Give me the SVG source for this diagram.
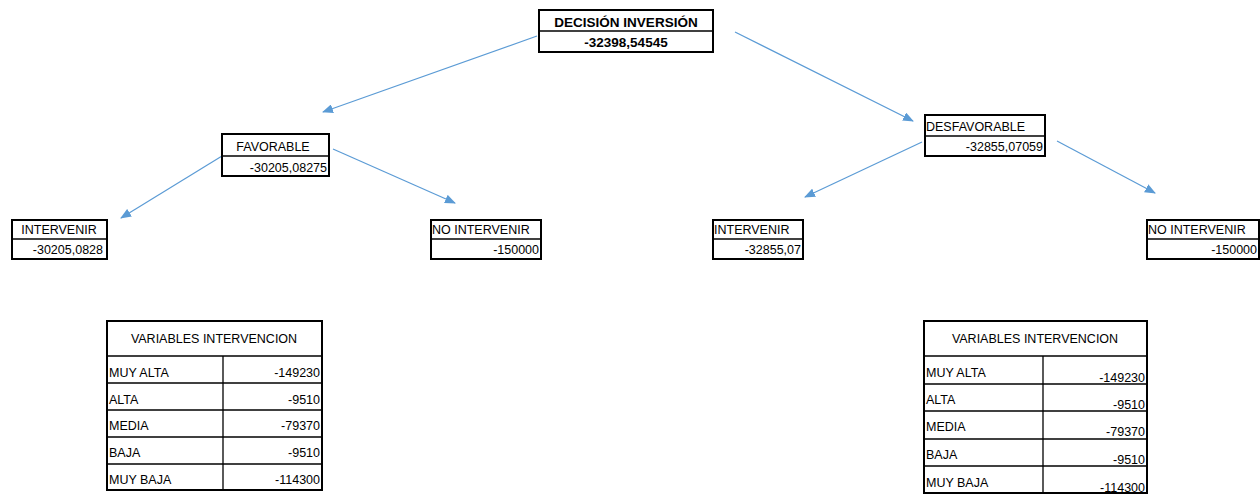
<svg xmlns="http://www.w3.org/2000/svg" width="1260" height="494" viewBox="0 0 1260 494">
  <style>
    text { font-family: "Liberation Sans", Arial, sans-serif; font-size: 12.5px; fill: #000; }
    .b { font-weight: bold; font-size: 13.5px; }
    .c { text-anchor: middle; }
    .r { text-anchor: end; }
    .box { fill: #fff; stroke: #000; stroke-width: 2; }
    .div { stroke: #000; stroke-width: 1.5; }
    .grid { stroke: #000; stroke-width: 1.3; }
    .edge { stroke: #5B9BD5; stroke-width: 1.2; fill: none; marker-end: url(#arrow); }
  </style>
  <defs>
    <marker id="arrow" markerUnits="userSpaceOnUse" markerWidth="11" markerHeight="9" refX="10" refY="4.5" orient="auto">
      <path d="M0,0 L11,4.5 L0,9 Z" fill="#5B9BD5"/>
    </marker>
  </defs>

  <!-- connectors -->
  <g id="connectors">
    <line class="edge" x1="537" y1="36" x2="323" y2="112"/>
    <line class="edge" x1="735" y1="32" x2="913" y2="121"/>
    <line class="edge" x1="222" y1="156" x2="121" y2="218"/>
    <line class="edge" x1="333" y1="149" x2="455" y2="203"/>
    <line class="edge" x1="922" y1="142" x2="805" y2="197"/>
    <line class="edge" x1="1057" y1="141" x2="1155" y2="193"/>
  </g>

  <!-- root decision -->
  <g id="decision">
    <rect class="box" x="539" y="10" width="174" height="42"/>
    <line class="div" x1="539" y1="31" x2="713" y2="31"/>
    <text class="b c" x="626" y="27">DECISIÓN INVERSIÓN</text>
    <text class="b c" x="626" y="47">-32398,54545</text>
  </g>

  <!-- favorable branch -->
  <g id="favorable">
    <rect class="box" x="222" y="134" width="107" height="42"/>
    <line class="div" x1="222" y1="156" x2="329" y2="156"/>
    <text class="c" x="273" y="151">FAVORABLE</text>
    <text class="r" x="327" y="172">-30205,08275</text>
  </g>

  <g id="fav-intervenir">
    <rect class="box" x="12" y="220" width="95" height="39"/>
    <line class="div" x1="12" y1="239" x2="107" y2="239"/>
    <text class="c" x="59" y="234">INTERVENIR</text>
    <text class="r" x="103" y="254">-30205,0828</text>
  </g>

  <g id="fav-no-intervenir">
    <rect class="box" x="431" y="220" width="110" height="39"/>
    <line class="div" x1="431" y1="239" x2="541" y2="239"/>
    <text x="432" y="234">NO INTERVENIR</text>
    <text class="r" x="539" y="254">-150000</text>
  </g>

  <!-- unfavorable branch -->
  <g id="desfavorable">
    <rect class="box" x="925" y="115" width="120" height="41"/>
    <line class="div" x1="925" y1="136" x2="1045" y2="136"/>
    <text x="926" y="131">DESFAVORABLE</text>
    <text class="r" x="1043" y="151">-32855,07059</text>
  </g>

  <g id="desf-intervenir">
    <rect class="box" x="713" y="220" width="90" height="39"/>
    <line class="div" x1="713" y1="239" x2="803" y2="239"/>
    <text x="714" y="234">INTERVENIR</text>
    <text class="r" x="801" y="254">-32855,07</text>
  </g>

  <g id="desf-no-intervenir">
    <rect class="box" x="1147" y="220" width="112" height="39"/>
    <line class="div" x1="1147" y1="239" x2="1259" y2="239"/>
    <text x="1148" y="234">NO INTERVENIR</text>
    <text class="r" x="1257" y="254">-150000</text>
  </g>

  <!-- intervention variables, left -->
  <g id="table-left">
    <rect class="box" x="107" y="321" width="215" height="169"/>
    <line class="grid" x1="107" y1="356" x2="322" y2="356"/>
    <line class="grid" x1="107" y1="383" x2="322" y2="383"/>
    <line class="grid" x1="107" y1="410" x2="322" y2="410"/>
    <line class="grid" x1="107" y1="437" x2="322" y2="437"/>
    <line class="grid" x1="107" y1="464" x2="322" y2="464"/>
    <line class="grid" x1="223" y1="356" x2="223" y2="490"/>
    <text class="c" x="214" y="343">VARIABLES INTERVENCION</text>
    <text x="109" y="377">MUY ALTA</text><text class="r" x="320" y="377">-149230</text>
    <text x="109" y="404">ALTA</text><text class="r" x="320" y="404">-9510</text>
    <text x="109" y="430">MEDIA</text><text class="r" x="320" y="430">-79370</text>
    <text x="109" y="457">BAJA</text><text class="r" x="320" y="457">-9510</text>
    <text x="109" y="484">MUY BAJA</text><text class="r" x="320" y="484">-114300</text>
  </g>

  <!-- intervention variables, right -->
  <g id="table-right">
    <rect class="box" x="924" y="321" width="223" height="172"/>
    <line class="grid" x1="924" y1="356" x2="1147" y2="356"/>
    <line class="grid" x1="924" y1="384" x2="1147" y2="384"/>
    <line class="grid" x1="924" y1="411" x2="1147" y2="411"/>
    <line class="grid" x1="924" y1="439" x2="1147" y2="439"/>
    <line class="grid" x1="924" y1="466" x2="1147" y2="466"/>
    <line class="grid" x1="1043" y1="356" x2="1043" y2="493"/>
    <text class="c" x="1035" y="343">VARIABLES INTERVENCION</text>
    <text x="926" y="377">MUY ALTA</text><text class="r" x="1145" y="382">-149230</text>
    <text x="926" y="404">ALTA</text><text class="r" x="1145" y="409">-9510</text>
    <text x="926" y="431">MEDIA</text><text class="r" x="1145" y="436">-79370</text>
    <text x="926" y="459">BAJA</text><text class="r" x="1145" y="464">-9510</text>
    <text x="926" y="487">MUY BAJA</text><text class="r" x="1145" y="492">-114300</text>
  </g>
</svg>
